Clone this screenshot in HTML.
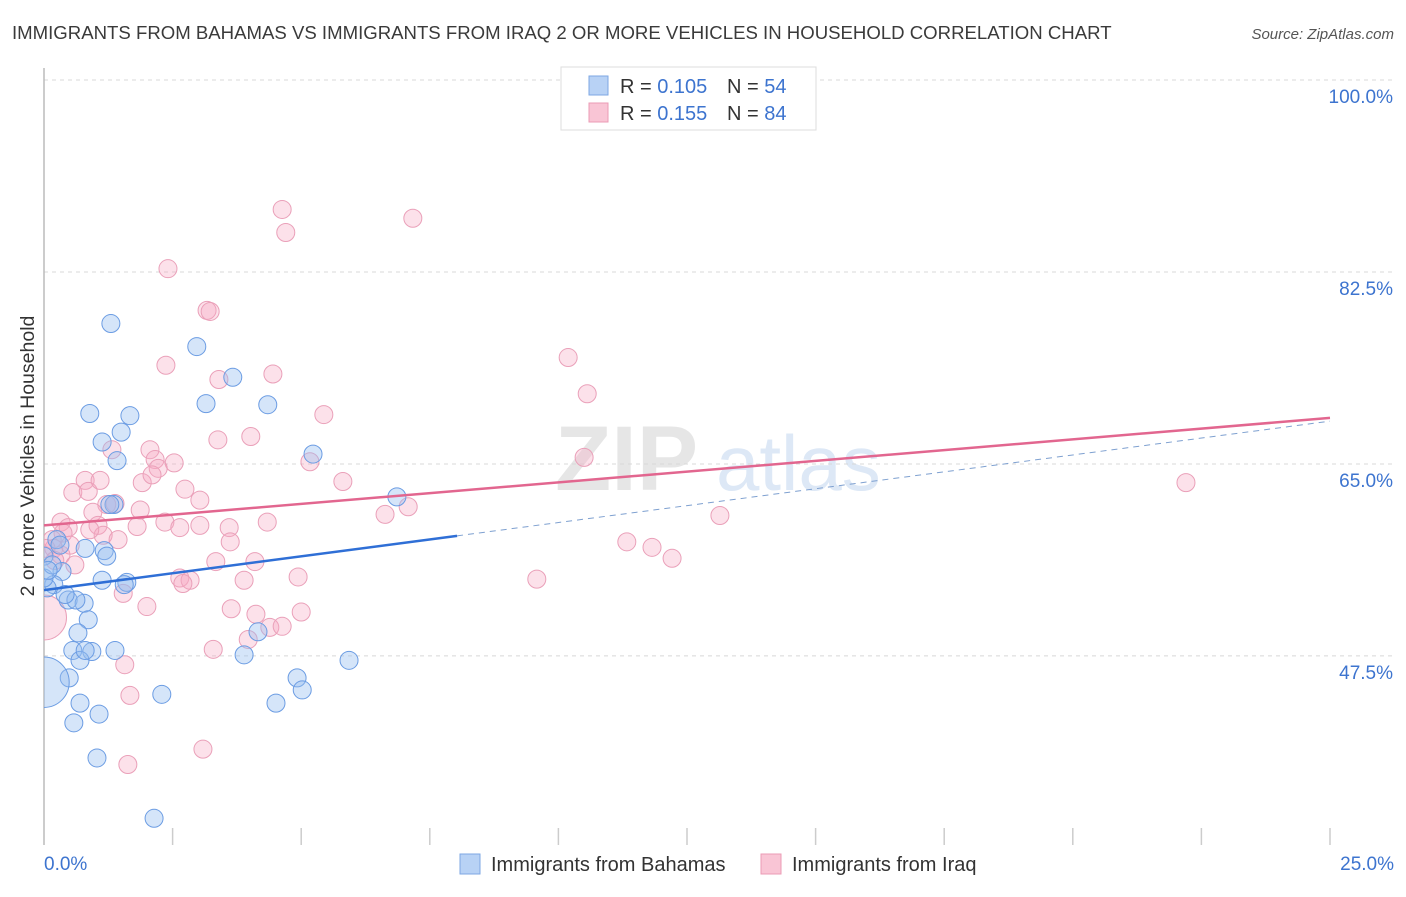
<!DOCTYPE html>
<html><head><meta charset="utf-8"><style>
body{margin:0;background:#fff;font-family:"Liberation Sans",sans-serif;}
svg text{font-family:"Liberation Sans",sans-serif;}
</style></head><body>
<svg id="chart" width="1406" height="892" viewBox="0 0 1406 892" xmlns="http://www.w3.org/2000/svg">
<defs><clipPath id="plotclip"><rect x="44" y="60" width="1360" height="790"/></clipPath></defs>
<text x="12" y="39" font-size="18.6" fill="#3a3a3a">IMMIGRANTS FROM BAHAMAS VS IMMIGRANTS FROM IRAQ 2 OR MORE VEHICLES IN HOUSEHOLD CORRELATION CHART</text>
<text x="1394" y="39" font-size="15" fill="#555" font-style="italic" text-anchor="end">Source: ZipAtlas.com</text>
<g>
<text x="555" y="490" font-size="92" fill="#e6e6e6" font-family="Liberation Serif" font-weight="bold">ZIP</text>
<text x="716" y="490" font-size="78" fill="#dde8f6">atlas</text>
</g>
<g id="grid"></g>
<g id="axes"></g>
<g id="marks" clip-path="url(#plotclip)"></g>
<g id="trends"></g>
<text transform="translate(34,456) rotate(-90)" font-size="19.5" fill="#333" text-anchor="middle">2 or more Vehicles in Household</text>
<g>
<rect x="561" y="67" width="255" height="63" fill="#fff" stroke="#ddd"/>
<rect x="589" y="76" width="19" height="19" fill="#b8d2f5" stroke="#7ea7e3"/>
<rect x="589" y="103" width="19" height="19" fill="#f9c5d5" stroke="#eb9bb5"/>
<text x="620" y="93" font-size="20" fill="#333">R = <tspan fill="#3d74cf">0.105</tspan></text>
<text x="727" y="93" font-size="20" fill="#333">N = <tspan fill="#3d74cf">54</tspan></text>
<text x="620" y="120" font-size="20" fill="#333">R = <tspan fill="#3d74cf">0.155</tspan></text>
<text x="727" y="120" font-size="20" fill="#333">N = <tspan fill="#3d74cf">84</tspan></text>
</g>
<g>
<rect x="460" y="854" width="20" height="20" fill="#b8d2f5" stroke="#7ea7e3"/>
<text x="491" y="871" font-size="20" fill="#333">Immigrants from Bahamas</text>
<rect x="761" y="854" width="20" height="20" fill="#f9c5d5" stroke="#eb9bb5"/>
<text x="792" y="871" font-size="20" fill="#333">Immigrants from Iraq</text>
</g>
</svg>
<script>
const yTicks=[47.5,65.0,82.5,100.0];
const yTickLabels=["47.5%","65.0%","82.5%","100.0%"];
const xTickCount=10;
const xLabels=["0.0%","25.0%"];
const bahamasX=[1.30,2.97,3.67,3.15,4.35,0.89,1.67,1.50,1.13,1.42,5.23,6.86,1.36,0.25,0.80,1.17,1.22,0,0.35,0.19,0.06,1.13,1.61,1.56,0.47,0.78,0.86,0.66,4.16,0.56,1.38,0.93,0.70,3.89,5.93,0.49,4.92,5.02,2.29,0.70,4.51,1.07,0.58,1.03,2.14,0,0,0.16,0.31,0.62,0.41,0.08,1.28,0.80];
const bahamasY=[77.8,75.7,72.9,70.5,70.4,69.6,69.4,67.9,67.0,65.3,65.9,62.0,61.3,58.1,57.3,57.1,56.6,56.6,55.2,54.0,53.7,54.4,54.2,54.0,52.6,52.3,50.8,49.6,49.7,48.0,48.0,47.9,47.1,47.6,47.1,45.5,45.5,44.4,44.0,43.2,43.2,42.2,41.4,38.2,32.7,45.1,54.6,55.8,57.6,52.6,53.1,55.3,61.3,48.0];
const bahamasSize=[1,1,1,1,1,1,1,1,1,1,1,1,1,1,1,1,1,1,1,1,1,1,1,1,1,1,1,1,1,1,1,1,1,1,1,1,1,1,1,1,1,1,1,1,1,2.8,1,1,1,1,1,1,1,1];
const iraqX=[4.63,7.17,4.70,2.41,3.17,3.23,10.19,2.37,10.56,3.40,4.45,5.44,4.02,3.38,2.06,2.16,2.53,2.22,1.32,0.80,1.91,2.10,5.17,5.81,10.50,22.20,0.56,0.86,2.74,3.03,1.22,1.38,0.95,6.63,7.08,13.14,2.35,1.81,2.64,0.33,0.47,1.05,3.60,4.34,0.37,0.16,1.15,1.44,0.19,0.33,0.04,0.60,3.62,11.33,11.82,12.21,3.34,4.10,2.64,2.84,2.70,3.89,4.94,9.58,1.54,2.00,3.64,4.12,5.00,4.39,4.63,3.97,3.29,1.57,1.67,3.09,1.63,0,1.09,0.51,0.21,3.03,1.87,0.89];
const iraqY=[88.2,87.4,86.1,82.8,79.0,78.9,74.7,74.0,71.4,72.7,73.2,69.5,67.5,67.2,66.3,65.4,65.1,64.6,66.3,63.5,63.3,64.0,65.2,63.4,65.6,63.3,62.4,62.5,62.7,61.7,61.3,61.4,60.6,60.4,61.1,60.3,59.7,59.3,59.2,59.7,59.2,59.4,59.2,59.7,58.7,58.1,58.5,58.1,57.3,56.7,57.3,55.8,57.9,57.9,57.4,56.4,56.1,56.1,54.6,54.4,54.1,54.4,54.7,54.5,53.2,52.0,51.8,51.3,51.5,50.1,50.2,49.0,48.1,46.7,43.9,39.0,37.6,51.0,63.5,57.6,56.2,59.4,60.8,59.0];
const iraqSize=iraqX.map((v,i)=>i===77?2.5:1);
const trendIntercept=[53.5,59.4];
const trendSlope=[0.616,0.392];
const solidEnd=[8.03,25];

const NS="http://www.w3.org/2000/svg";
const X0=44,X1=1330,Y100=80,PER=10.97;
const sx=v=>X0+(v/25)*(X1-X0);
const sy=v=>Y100+(100-v)*PER;
function mk(tag,attrs,parent){const e=document.createElementNS(NS,tag);for(const k in attrs)e.setAttribute(k,attrs[k]);parent.appendChild(e);return e;}
const grid=document.getElementById('grid'),axes=document.getElementById('axes'),marks=document.getElementById('marks'),trends=document.getElementById('trends');
yTicks.forEach((t,i)=>{
  const l=mk('line',{x1:X0,x2:1394,y1:sy(t),y2:sy(t),stroke:'#d8d8d8','stroke-dasharray':'4,4'},grid);
  
  
  const tx=mk('text',{x:1393,y:sy(t)+23,'font-size':19,fill:'#3d74cf','text-anchor':'end'},axes);
  tx.textContent=yTickLabels[i];
  
  
});
const ax=mk('line',{x1:X0,x2:X0,y1:68,y2:845,stroke:'#bbb','stroke-width':1.5},axes);


for(let i=1;i<=xTickCount;i++){
  const x=X0+i*(X1-X0)/xTickCount;
  const t=mk('line',{x1:x,x2:x,y1:828,y2:845,stroke:'#ccc','stroke-width':1.5},axes);
  
  
}
[[xLabels[0],44,'start'],[xLabels[1],1394,'end']].forEach(a=>{
  const t=mk('text',{x:a[1],y:870,'font-size':19,fill:'#3d74cf','text-anchor':a[2]},axes);
  t.textContent=a[0];
  
  
});
function dots(X,Y,S,fill,stroke,name){
  X.forEach((v,i)=>{
    const c=mk('circle',{cx:sx(v),cy:sy(Y[i]),r:9*S[i],fill:fill,stroke:stroke,'stroke-width':1},marks);
    
    
  });
}
dots(iraqX,iraqY,iraqSize,'rgba(246,170,195,0.35)','#eaa0b9','iraq-point');
dots(bahamasX,bahamasY,bahamasSize,'rgba(150,190,240,0.4)','#6b9ce3','bahamas-point');
const colors=['#2f6fd6','#e2668f'];
[0,1].forEach(s=>{
  const y=x=>trendIntercept[s]+trendSlope[s]*x;
  const l=mk('line',{x1:sx(0),y1:sy(y(0)),x2:sx(solidEnd[s]),y2:sy(y(solidEnd[s])),stroke:colors[s],'stroke-width':2.5},trends);
  
  
  if(solidEnd[s]<25){
    const d=mk('line',{x1:sx(solidEnd[s]),y1:sy(y(solidEnd[s])),x2:sx(25),y2:sy(y(25)),stroke:'#7ea0d0','stroke-width':1,'stroke-dasharray':'6,5'},trends);
    
    
  }
});
</script>
</body></html>
